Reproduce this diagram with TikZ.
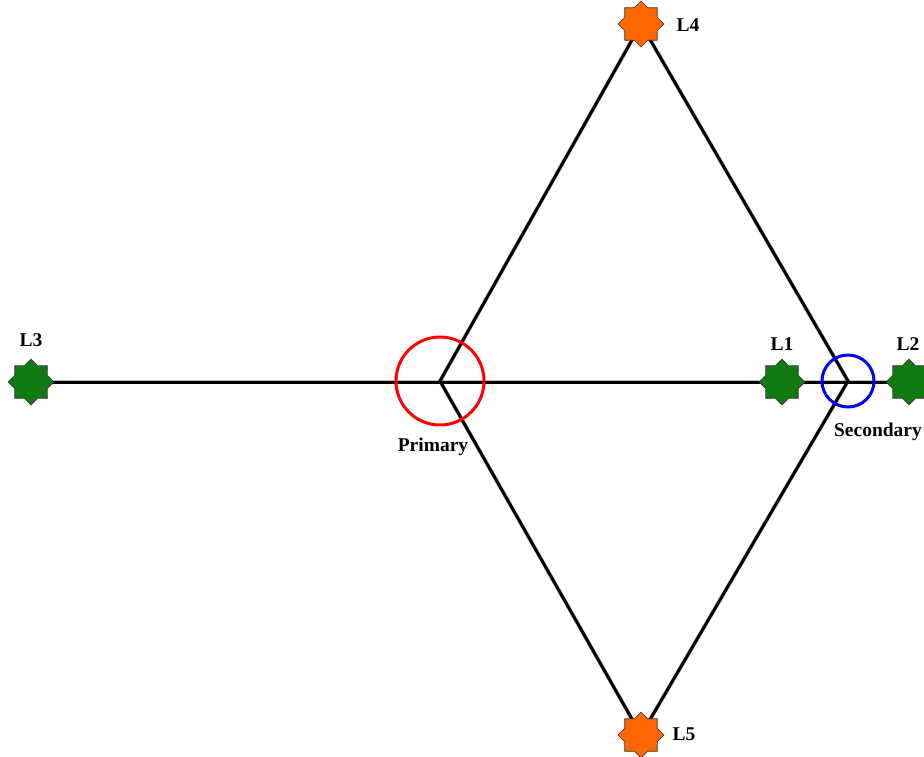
\documentclass[tikz,border=0pt]{standalone}
\usepackage{fontspec}
\setmainfont{Liberation Serif}
\usetikzlibrary{shapes.geometric}
\definecolor{loadgreen}{RGB}{18,122,18}
\definecolor{loadorange}{RGB}{255,102,0}
\tikzset{
  cable/.style={line width=3pt,black},
  cableshade/.style={line width=4pt,black!25,shift={(1.5,1.5)}},
  load/.style={star,star points=8,star point ratio=1.31,minimum size=46pt,inner sep=0pt,draw=black!80,line width=0.6pt},
  lbl/.style={font=\fontsize{19.5}{22}\selectfont\bfseries,inner sep=0pt}
}
\begin{document}
\begin{tikzpicture}[x=1pt,y=-1pt]
\useasboundingbox (0,0) rectangle (924,756);
% buses
\coordinate (prim) at (440,381);
\coordinate (sec) at (848,381);
% loads
\coordinate (l1) at (782,382);
\coordinate (l2) at (909,382);
\coordinate (l3) at (31,382);
\coordinate (l4) at (641,24);
\coordinate (l5) at (641,735);
% shadows of the lines
\draw[cableshade] (l3) -- (l2);
\draw[cableshade] (l4) -- (prim) -- (l5);
\draw[cableshade] (l4) -- (sec) -- (l5);
% lines
\draw[cable] (l3) -- (l2);
\draw[cable,line join=miter] (l4) -- (prim) -- (l5);
\draw[cable,line join=miter] (l4) -- (sec) -- (l5);
% bus circles
\node[circle,draw=red,line width=3pt,minimum size=88pt,inner sep=0pt] (primc) at (prim) {};
\node[circle,draw=blue,line width=3pt,minimum size=52pt,inner sep=0pt] (secc) at (sec) {};
% load stars
\node[load,fill=loadgreen] (s1) at (l1) {};
\node[load,fill=loadgreen] (s2) at (l2) {};
\node[load,fill=loadgreen] (s3) at (l3) {};
\node[load,fill=loadorange] (s4) at (l4) {};
\node[load,fill=loadorange] (s5) at (l5) {};
% labels
\node[lbl] (t1) at (782,344) {L1};
\node[lbl] (t2) at (908,344) {L2};
\node[lbl] (t3) at (31,340) {L3};
\node[lbl] (t4) at (688,25) {L4};
\node[lbl] (t5) at (684,734) {L5};
\node[lbl] (tp) at (433,447) {Primary};
\node[lbl] (ts) at (878,432) {Secondary};
\end{tikzpicture}
\end{document}
